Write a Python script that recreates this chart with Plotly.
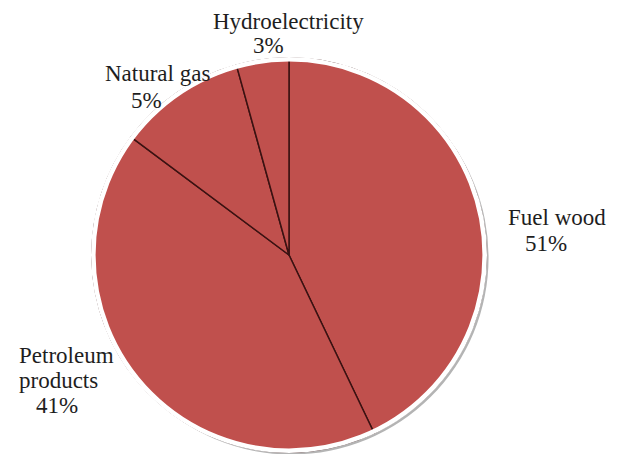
import plotly.graph_objects as go

# Data
categories = ["Fuel wood", "Petroleum products", "Natural gas", "Hydroelectricity"]
slice_values = [42.9, 42.3, 10.5, 4.3]          # angular size of each wedge as drawn
pct_labels = ["51%", "41%", "5%", "3%"]          # percentages printed on the chart
label_lines = {
    "Fuel wood": ["Fuel wood"],
    "Petroleum products": ["Petroleum", "products"],
    "Natural gas": ["Natural gas"],
    "Hydroelectricity": ["Hydroelectricity"],
}

W, H = 622, 454
OFF = 8  # the page body margin shifts the figure by this many pixels
cx, cy, R = 289 - OFF, 255 - OFF, 197

def dom(cx_, cy_, r_):
    return dict(x=[(cx_ - r_) / W, (cx_ + r_) / W],
                y=[(H - cy_ - r_) / H, (H - cy_ + r_) / H])

RED = "#C0504D"

fig = go.Figure()

# soft drop shadow (decoration)
fig.add_trace(go.Pie(values=[1], labels=["shadow"], domain=dom(cx + 2.5, cy + 2.5, R),
                     marker=dict(colors=["#b4b4b4"], line=dict(width=0)),
                     textinfo="none", hoverinfo="skip", sort=False, showlegend=False))

# main pie
fig.add_trace(go.Pie(
    labels=categories, values=slice_values, sort=False, direction="clockwise",
    rotation=0, domain=dom(cx, cy, R),
    marker=dict(colors=[RED] * len(categories), line=dict(color="#3a1212", width=1.5)),
    textinfo="none", customdata=pct_labels,
    hovertemplate="%{label}: %{customdata}<extra></extra>", showlegend=False))

# thin white rim (decoration)
fig.add_trace(go.Pie(values=[1], labels=["rim"], domain=dom(cx, cy, R), hole=(R - 2.6) / R,
                     marker=dict(colors=["#ffffff"], line=dict(color="#ffffff", width=2)),
                     textinfo="none", hoverinfo="skip", sort=False, showlegend=False))

# label placement (pixel centres of each text line, then percentage line)
label_pos = {
    "Fuel wood": [(557, 217), (546, 243)],
    "Petroleum products": [(66, 355), (58, 380), (57, 405)],
    "Natural gas": [(157, 73), (146, 100)],
    "Hydroelectricity": [(288, 21), (268, 46)],
}

FAMILY = "'Times New Roman', 'Liberation Serif', 'DejaVu Serif', serif"
font = dict(family=FAMILY, size=23, color="#1e1e1e")
annotations = []
for cat, pct in zip(categories, pct_labels):
    texts = label_lines[cat] + [pct]
    for t, (px, py) in zip(texts, label_pos[cat]):
        annotations.append(dict(text=t, x=(px - OFF) / W, y=1 - (py - OFF) / H,
                                xref="paper", yref="paper",
                                xanchor="center", yanchor="middle", showarrow=False, font=font))

fig.update_layout(width=W, height=H, margin=dict(l=0, r=0, t=0, b=0),
                  paper_bgcolor="white", plot_bgcolor="white",
                  font=dict(family=FAMILY),
                  showlegend=False, annotations=annotations)

fig.write_html("out.html")
